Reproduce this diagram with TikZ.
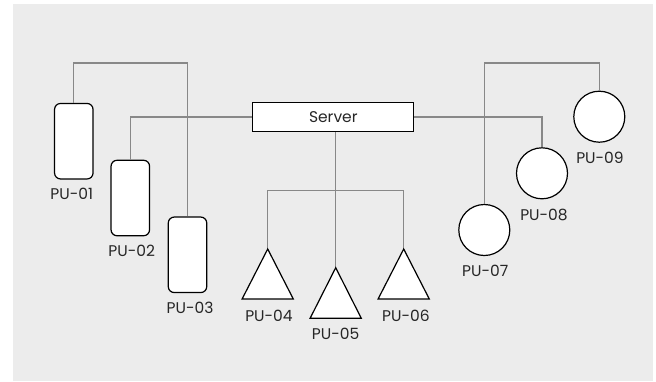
\documentclass[tikz,border=0pt]{standalone}
\usepackage{fontspec}
\setmainfont{Poppins}
\usetikzlibrary{calc}
\definecolor{bgc}{HTML}{ECECEC}
\definecolor{wirec}{HTML}{888888}
\tikzset{
  wire/.style={draw=wirec, line width=1.3pt},
  pubox/.style={draw=black, fill=white, line width=1.2pt, rounded corners=6pt, minimum width=38.5pt, minimum height=75.5pt, inner sep=0pt},
  pucirc/.style={draw=black, fill=white, line width=1.2pt, circle, minimum size=51pt, inner sep=0pt},
  putri/.style={draw=black, fill=white, line width=1.2pt, line join=miter},
  lbl/.style={font=\fontsize{15.5}{18}\selectfont, text=black!85, inner sep=0pt},
  srv/.style={draw=black, fill=white, line width=1.2pt, minimum width=161pt, minimum height=29pt, inner sep=0pt, font=\fontsize{15.5}{18}\selectfont, text=black!85}
}
\begin{document}
\begin{tikzpicture}[x=1pt, y=-1pt]
\useasboundingbox (0,0) rectangle (656,381);
\fill[bgc] (13,4) rectangle (653,381);

% server
\node[srv] (server) at (333.3,117) {Server};

% rounded boxes
\node[pubox] (p1) at (73.8,141.2) {};
\node[pubox] (p2) at (130.3,198) {};
\node[pubox] (p3) at (187.5,254.8) {};

% circles
\node[pucirc] (p7) at (484.3,230) {};
\node[pucirc] (p8) at (542,173.3) {};
\node[pucirc] (p9) at (599.3,116.7) {};

% triangles (apex coordinates)
\coordinate (p4) at (267.7,249);
\coordinate (p5) at (335.7,267.7);
\coordinate (p6) at (403.7,249);

% wires
\draw[wire] (p1.north) -- ++(0,-40) -| (p3.north);
\draw[wire] (p2.north) |- (server.west);
\draw[wire] (p5 |- server.south) -- (p5);
\draw[wire] (p4) -- ++(0,-58.7) -| (p6);
\draw[wire] (server.east) -| (p8.north);
\draw[wire] (p9.north) -- ++(0,-27.7) -| (p7.north);

% triangles
\draw[putri] (p4) -- ++(25.6,50) -- ++(-51.2,0) -- cycle;
\draw[putri] (p5) -- ++(25.6,50.6) -- ++(-51.2,0) -- cycle;
\draw[putri] (p6) -- ++(25.6,50) -- ++(-51.2,0) -- cycle;

% labels
\node[lbl] at (71.7,194.3) {PU-01};
\node[lbl] at (131.7,251) {PU-02};
\node[lbl] at (190,308) {PU-03};
\node[lbl] at (269,315.7) {PU-04};
\node[lbl] at (335.7,334.3) {PU-05};
\node[lbl] at (406,315.7) {PU-06};
\node[lbl] at (485.3,271) {PU-07};
\node[lbl] at (544,215) {PU-08};
\node[lbl] at (600,158.3) {PU-09};
\end{tikzpicture}
\end{document}
